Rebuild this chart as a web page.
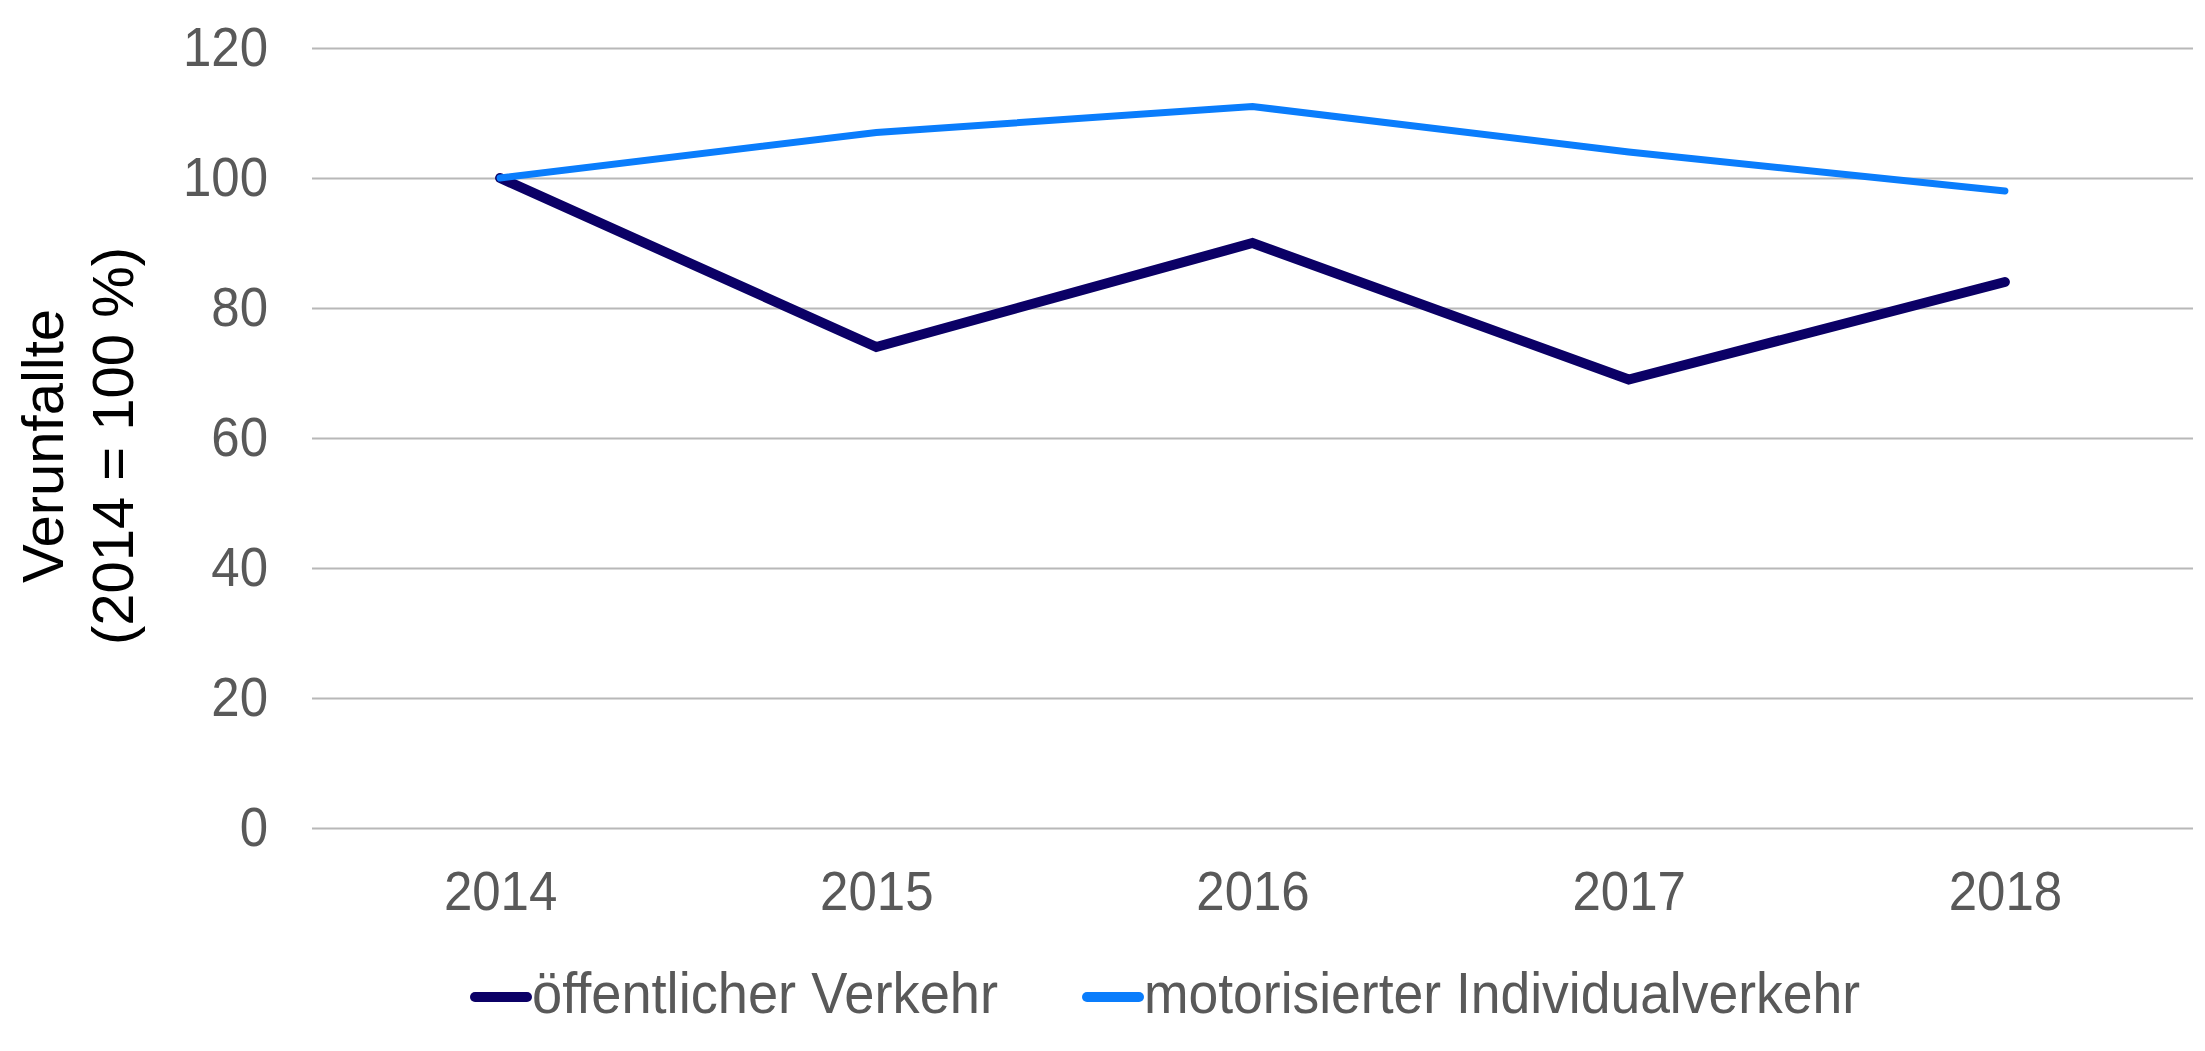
<!DOCTYPE html>
<html>
<head>
<meta charset="utf-8">
<script src="https://cdn.jsdelivr.net/npm/d3@7"></script>
<style>
  body { margin: 0; background: #fff; }
  text { font-family: 'Liberation Sans', Arial, sans-serif; }
</style>
</head>
<body>
<div id="chart"></div>
<script>
let years = ['2014', '2015', '2016', '2017', '2018']
let oev = [100, 74, 90, 69, 84]
let miv = [100, 107, 111, 104, 98]
let yTicks = [0, 20, 40, 60, 80, 100, 120]
let seriesNames = ['öffentlicher Verkehr', 'motorisierter Individualverkehr']

let width = 2205
let height = 1051
let margin = { top: 48, left: 312, right: 12, bottom: 223 }

// labels in the picture are a bit taller than wide
let stretch = 1.09

let svg = d3
  .select('#chart')
  .append('svg')
  .attr('width', width)
  .attr('height', height)

let xScale = d3
  .scalePoint()
  .domain(years)
  .range([margin.left, width - margin.right])
  .padding(0.5)

let yScale = d3
  .scaleLinear()
  .domain([0, 120])
  .range([height - margin.bottom, margin.top])

// gridlines + y labels
let yAxis = d3
  .axisLeft(yScale)
  .tickValues(yTicks)
  .tickSize(-(width - margin.left - margin.right))
  .tickPadding(44)

svg
  .append('g')
  .attr('transform', `translate(${margin.left},0)`)
  .call(yAxis)
  .call(g => g.select('.domain').remove())
  .call(g =>
    g
      .selectAll('line')
      .attr('stroke', '#b8b8b8')
      .attr('stroke-width', 2)
  )
  .call(g =>
    g
      .selectAll('text')
      .attr('font-size', 51)
      .attr('fill', '#595959')
      .attr('font-family', "'Liberation Sans', Arial, sans-serif")
      .attr('transform', `scale(1,${stretch})`)
  )

let xAxis = d3
  .axisBottom(xScale)
  .tickSize(0)
  .tickPadding(47)

svg
  .append('g')
  .attr('transform', `translate(0,${height - margin.bottom})`)
  .call(xAxis)
  .call(g => g.select('.domain').remove())
  .call(g =>
    g
      .selectAll('text')
      .attr('font-size', 51)
      .attr('fill', '#595959')
      .attr('font-family', "'Liberation Sans', Arial, sans-serif")
      .attr('y', 0)
      .attr('dy', 0)
      .attr('transform', `translate(0,82)scale(1,${stretch})`)
  )

// y axis title, two lines
let title = svg
  .append('text')
  .attr('transform', 'translate(63,446)rotate(-90)')
  .attr('text-anchor', 'middle')
  .attr('font-size', 58)
  .attr('fill', '#000')

title.append('tspan').attr('x', 0).attr('y', 0).text('Verunfallte')
title.append('tspan').attr('x', 0).attr('y', 70).text('(2014 = 100 %)')

let series = [
  { name: seriesNames[0], values: oev, color: '#0b0066', width: 10 },
  { name: seriesNames[1], values: miv, color: '#0a7dfc', width: 7 }
]

let line = d3
  .line()
  .x((d, i) => xScale(years[i]))
  .y(d => yScale(d))

svg
  .selectAll('.series-line')
  .data(series)
  .enter()
  .append('path')
  .attr('class', 'series-line')
  .attr('d', d => line(d.values))
  .attr('fill', 'none')
  .attr('stroke', d => d.color)
  .attr('stroke-width', d => d.width)
  .attr('stroke-linecap', 'round')

// legend
let legendX = [470, 1082]
let legendTextLen = [466, 716]

let legend = svg
  .selectAll('.legend-item')
  .data(series)
  .enter()
  .append('g')
  .attr('class', 'legend-item')
  .attr('transform', (d, i) => `translate(${legendX[i]},997)`)

legend
  .append('line')
  .attr('x1', 5)
  .attr('x2', 57)
  .attr('stroke', d => d.color)
  .attr('stroke-width', 10)
  .attr('stroke-linecap', 'round')

legend
  .append('text')
  .attr('x', 62)
  .attr('font-size', 52)
  .attr('fill', '#595959')
  .attr('textLength', (d, i) => legendTextLen[i])
  .attr('lengthAdjust', 'spacingAndGlyphs')
  .attr('transform', `translate(0,16)scale(1,${stretch})`)
  .text(d => d.name)
</script>
</body>
</html>
